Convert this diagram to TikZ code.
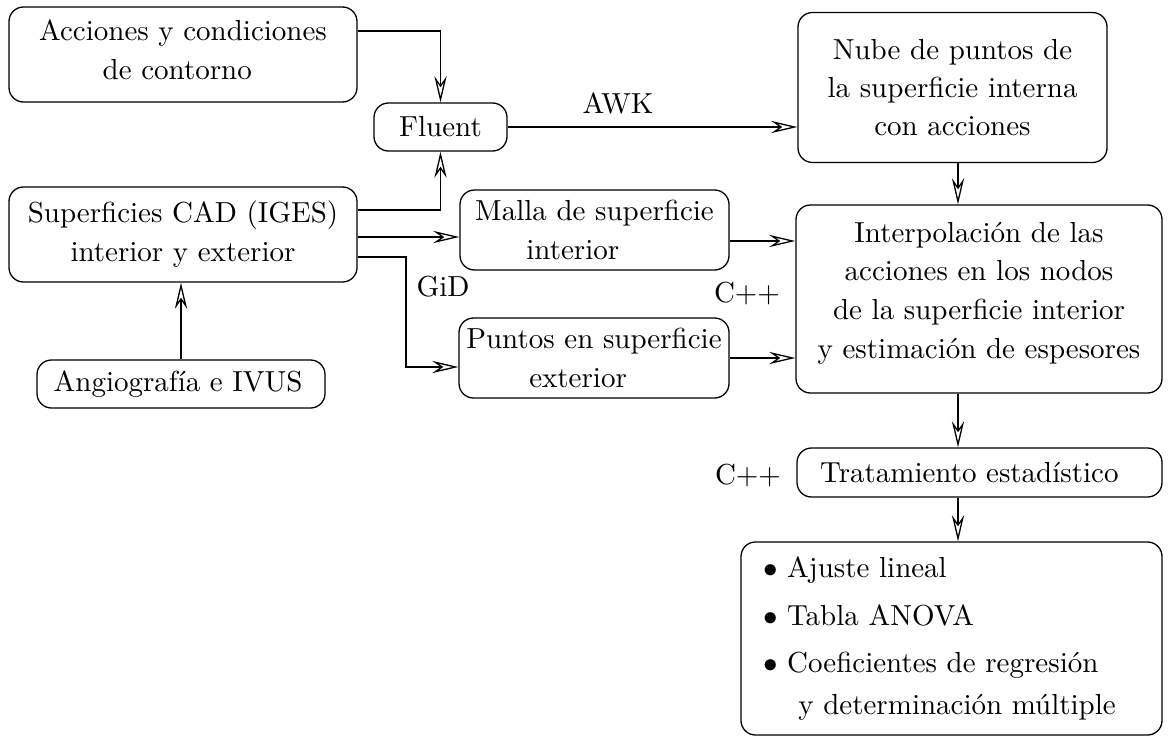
\documentclass[tikz,border=0pt]{standalone}
\usetikzlibrary{arrows.meta}
\newcommand\upx{0.345pt}
\begin{document}
\begin{tikzpicture}[x=0.345pt,y=-0.345pt,
  box/.style={draw,rounded corners=5pt,align=center,inner sep=0pt,
    font=\fontsize{10}{13.4}\selectfont},
  lbl/.style={inner sep=0pt,font=\fontsize{10}{13.4}\selectfont},
  >={Stealth[open,length=9pt,width=4.2pt,inset=3pt]},
  line width=0.45pt]
\useasboundingbox (0,0) rectangle (1170,738);

\node[box,minimum width={348*\upx},minimum height={95*\upx},text depth=3.4pt] (acc) at (183,54.5)
  {Acciones y condiciones\\de contorno\hspace*{4pt}};
\node[box,minimum width={133*\upx},minimum height={48*\upx}] (flu) at (440.5,127) {Fluent};
\node[box,minimum width={309*\upx},minimum height={150*\upx},
  font=\fontsize{10}{13.2}\selectfont] (nube) at (952.5,87.5)
  {Nube de puntos de\\la superficie interna\\con acciones};
\node[box,minimum width={348*\upx},minimum height={95*\upx}] (sup) at (183,234.5)
  {Superficies CAD (IGES)\\interior y exterior};
\node[box,minimum width={269*\upx},minimum height={80*\upx}] (malla) at (594.5,230)
  {Malla de superficie\\interior\hspace*{15pt}};
\node[box,minimum width={270*\upx},minimum height={80*\upx}] (puntos) at (594,358)
  {Puntos en superficie\\exterior\hspace*{11pt}};
\node[box,minimum width={366*\upx},minimum height={188*\upx},text depth=6.1pt] (interp) at (979,299)
  {Interpolación de las\\acciones en los nodos\\de la superficie interior\\y estimación de espesores};
\node[box,minimum width={288*\upx},minimum height={48*\upx}] (angio) at (181,384)
  {Angiografía e IVUS\hspace*{2pt}};
\node[box,minimum width={365*\upx},minimum height={49*\upx}] (trat) at (979.5,472.5)
  {Tratamiento estadístico\hspace*{7pt}};
\node[box,minimum width={421*\upx},minimum height={193*\upx},align=left,
  font=\fontsize{10}{14.2}\selectfont,
  text width={421*\upx-15.2pt},inner xsep=7.6pt] (bul) at (951.5,638.5)
  {$\bullet$\ Ajuste lineal\\[2.2pt]
   $\bullet$\ Tabla ANOVA\\[2.2pt]
   $\bullet$\ Coeficientes de regresión\\
   \hspace*{12.2pt}y determinación múltiple};

\node[lbl] (awk) at (618,103) {AWK};
\node[lbl] (gid) at (443,287) {GiD};
\node[lbl] (cpa) at (747,293) {C++};
\node[lbl] (cpb) at (748,475) {C++};

\coordinate (col) at (958,0);
\coordinate (gx) at (406,0);
\coordinate (a1) at ([yshift=23.5*\upx]acc.east);
\coordinate (s1) at ([yshift=24.5*\upx]sup.east);
\coordinate (s2) at ([yshift=-2.5*\upx]sup.east);
\coordinate (s3) at ([yshift=-22.5*\upx]sup.east);
\coordinate (pin) at ([yshift=-9*\upx]puntos.west);
\coordinate (mout) at ([yshift=-11*\upx]malla.east);

\draw[->] (a1) -| (flu.north);
\draw[->] (s1) -| (flu.south);
\draw[->] (s2) -- (s2 -| malla.west);
\draw[->] (s3) -- (s3 -| gx) |- (pin);
\draw[->] (flu.east) -- (flu.east -| nube.west);
\draw[->] (col |- nube.south) -- (col |- interp.north);
\draw[->] (mout) -- (mout -| interp.west);
\draw[->] (puntos.east) -- (puntos.east -| interp.west);
\draw[->] (col |- interp.south) -- (col |- trat.north);
\draw[->] (col |- trat.south) -- (col |- bul.north);
\draw[->] (angio.north) -- (angio.north |- sup.south);
\end{tikzpicture}
\end{document}
